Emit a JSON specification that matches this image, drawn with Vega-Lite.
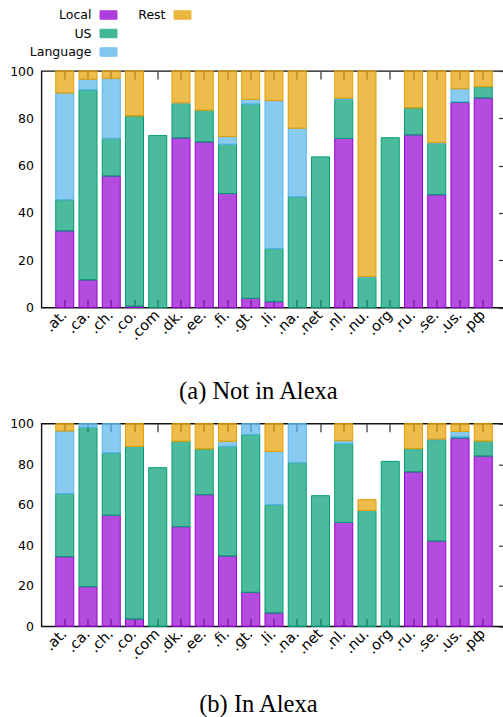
{
  "$schema": "https://vega.github.io/schema/vega-lite/v6.json",
  "padding": {"left": 8.5, "top": 6, "right": 0, "bottom": 0},
  "background": "white",
  "config": {
    "view": {"stroke": "#111", "strokeWidth": 1.4},
    "font": "DejaVu Sans",
    "axis": {"labelFont": "DejaVu Sans", "labelFontSize": 12.5, "labelColor": "#000", "domain": false, "grid": false, "title": null, "tickColor": "#333", "tickWidth": 1.2}
  },
  "data": {"values": [
    {"p":"a","t":".at.","c":"Local","v":32.4},{"p":"a","t":".at.","c":"US","v":13.1},{"p":"a","t":".at.","c":"Language","v":45.2},{"p":"a","t":".at.","c":"Rest","v":9.3},
    {"p":"a","t":".ca.","c":"Local","v":11.7},{"p":"a","t":".ca.","c":"US","v":80.3},{"p":"a","t":".ca.","c":"Language","v":4.5},{"p":"a","t":".ca.","c":"Rest","v":3.5},
    {"p":"a","t":".ch.","c":"Local","v":55.6},{"p":"a","t":".ch.","c":"US","v":15.9},{"p":"a","t":".ch.","c":"Language","v":25.4},{"p":"a","t":".ch.","c":"Rest","v":3.1},
    {"p":"a","t":".co.","c":"Local","v":0.6},{"p":"a","t":".co.","c":"US","v":80.4},{"p":"a","t":".co.","c":"Rest","v":19},
    {"p":"a","t":".com","c":"US","v":72.7},
    {"p":"a","t":".dk.","c":"Local","v":71.7},{"p":"a","t":".dk.","c":"US","v":14.5},{"p":"a","t":".dk.","c":"Language","v":0.3},{"p":"a","t":".dk.","c":"Rest","v":13.5},
    {"p":"a","t":".ee.","c":"Local","v":70},{"p":"a","t":".ee.","c":"US","v":13.4},{"p":"a","t":".ee.","c":"Rest","v":16.6},
    {"p":"a","t":".fi.","c":"Local","v":48.2},{"p":"a","t":".fi.","c":"US","v":20.8},{"p":"a","t":".fi.","c":"Language","v":3.3},{"p":"a","t":".fi.","c":"Rest","v":27.7},
    {"p":"a","t":".gt.","c":"Local","v":3.9},{"p":"a","t":".gt.","c":"US","v":82.1},{"p":"a","t":".gt.","c":"Language","v":2},{"p":"a","t":".gt.","c":"Rest","v":12},
    {"p":"a","t":".li.","c":"Local","v":2.5},{"p":"a","t":".li.","c":"US","v":22.4},{"p":"a","t":".li.","c":"Language","v":62.6},{"p":"a","t":".li.","c":"Rest","v":12.5},
    {"p":"a","t":".na.","c":"US","v":46.8},{"p":"a","t":".na.","c":"Language","v":29},{"p":"a","t":".na.","c":"Rest","v":24.2},
    {"p":"a","t":".net","c":"US","v":63.7},
    {"p":"a","t":".nl.","c":"Local","v":71.5},{"p":"a","t":".nl.","c":"US","v":16.5},{"p":"a","t":".nl.","c":"Language","v":0.5},{"p":"a","t":".nl.","c":"Rest","v":11.5},
    {"p":"a","t":".nu.","c":"US","v":12.7},{"p":"a","t":".nu.","c":"Language","v":0.4},{"p":"a","t":".nu.","c":"Rest","v":86.9},
    {"p":"a","t":".org","c":"US","v":71.8},
    {"p":"a","t":".ru.","c":"Local","v":73},{"p":"a","t":".ru.","c":"US","v":11.4},{"p":"a","t":".ru.","c":"Rest","v":15.6},
    {"p":"a","t":".se.","c":"Local","v":47.7},{"p":"a","t":".se.","c":"US","v":21.7},{"p":"a","t":".se.","c":"Language","v":0.3},{"p":"a","t":".se.","c":"Rest","v":30.3},
    {"p":"a","t":".us.","c":"Local","v":86.8},{"p":"a","t":".us.","c":"US","v":0.3},{"p":"a","t":".us.","c":"Language","v":5.4},{"p":"a","t":".us.","c":"Rest","v":7.5},
    {"p":"a","t":".рф","c":"Local","v":88.6},{"p":"a","t":".рф","c":"US","v":4.8},{"p":"a","t":".рф","c":"Rest","v":6.6},

    {"p":"b","t":".at.","c":"Local","v":34.4},{"p":"b","t":".at.","c":"US","v":31.1},{"p":"b","t":".at.","c":"Language","v":30.9},{"p":"b","t":".at.","c":"Rest","v":3.6},
    {"p":"b","t":".ca.","c":"Local","v":19.6},{"p":"b","t":".ca.","c":"US","v":78.6},{"p":"b","t":".ca.","c":"Language","v":1.8},
    {"p":"b","t":".ch.","c":"Local","v":54.8},{"p":"b","t":".ch.","c":"US","v":30.7},{"p":"b","t":".ch.","c":"Language","v":14.5},
    {"p":"b","t":".co.","c":"Local","v":3.6},{"p":"b","t":".co.","c":"US","v":85.2},{"p":"b","t":".co.","c":"Rest","v":11.2},
    {"p":"b","t":".com","c":"US","v":78.3},
    {"p":"b","t":".dk.","c":"Local","v":49.2},{"p":"b","t":".dk.","c":"US","v":42.1},{"p":"b","t":".dk.","c":"Rest","v":8.7},
    {"p":"b","t":".ee.","c":"Local","v":65},{"p":"b","t":".ee.","c":"US","v":22.5},{"p":"b","t":".ee.","c":"Rest","v":12.5},
    {"p":"b","t":".fi.","c":"Local","v":34.7},{"p":"b","t":".fi.","c":"US","v":54.1},{"p":"b","t":".fi.","c":"Language","v":2.5},{"p":"b","t":".fi.","c":"Rest","v":8.7},
    {"p":"b","t":".gt.","c":"Local","v":16.8},{"p":"b","t":".gt.","c":"US","v":77.8},{"p":"b","t":".gt.","c":"Language","v":5.4},
    {"p":"b","t":".li.","c":"Local","v":6.6},{"p":"b","t":".li.","c":"US","v":53.4},{"p":"b","t":".li.","c":"Language","v":26.3},{"p":"b","t":".li.","c":"Rest","v":13.7},
    {"p":"b","t":".na.","c":"US","v":80.8},{"p":"b","t":".na.","c":"Language","v":19.2},
    {"p":"b","t":".net","c":"US","v":64.5},
    {"p":"b","t":".nl.","c":"Local","v":51.3},{"p":"b","t":".nl.","c":"US","v":38.7},{"p":"b","t":".nl.","c":"Language","v":1.6},{"p":"b","t":".nl.","c":"Rest","v":8.4},
    {"p":"b","t":".nu.","c":"US","v":57.2},{"p":"b","t":".nu.","c":"Rest","v":5.3},
    {"p":"b","t":".org","c":"US","v":81.4},
    {"p":"b","t":".ru.","c":"Local","v":76.2},{"p":"b","t":".ru.","c":"US","v":11.5},{"p":"b","t":".ru.","c":"Rest","v":12.3},
    {"p":"b","t":".se.","c":"Local","v":42.1},{"p":"b","t":".se.","c":"US","v":50},{"p":"b","t":".se.","c":"Language","v":0.3},{"p":"b","t":".se.","c":"Rest","v":7.6},
    {"p":"b","t":".us.","c":"Local","v":92.9},{"p":"b","t":".us.","c":"US","v":0.5},{"p":"b","t":".us.","c":"Language","v":2.8},{"p":"b","t":".us.","c":"Rest","v":3.8},
    {"p":"b","t":".рф","c":"Local","v":84},{"p":"b","t":".рф","c":"US","v":7.4},{"p":"b","t":".рф","c":"Rest","v":8.6}
  ]},
  "bounds": "flush",
  "spacing": 115.7,
  "resolve": {"scale": {"fill": "shared", "stroke": "shared", "color": "shared"}, "legend": {"fill": "shared", "stroke": "shared", "color": "shared"}},
  "vconcat": [
    {
      "width": 465, "height": 236.6,
      "transform": [{"filter": "datum.p == 'a'"}, {"stack": "v", "groupby": ["t"], "as": ["y0", "y1"]}],
      "title": {"text": "(a) Not in Alexa", "orient": "bottom", "anchor": "middle", "frame": "bounds", "font": "Liberation Serif", "fontSize": 24.5, "fontWeight": "normal", "color": "#000", "offset": 38},
      "resolve": {"axis": {"x": "independent", "y": "independent"}},
      "layer": [
        {
          "transform": [{"filter": "datum.c != 'Rest'"}],
          "mark": {"type": "bar", "fillOpacity": 0.7, "strokeOpacity": 1, "strokeWidth": 1},
          "encoding": {
            "x": {"field": "t", "type": "nominal", "sort": null, "scale": {"domain": [".at.",".ca.",".ch.",".co.",".com",".dk.",".ee.",".fi.",".gt.",".li.",".na.",".net",".nl.",".nu.",".org",".ru.",".se.",".us.",".рф"], "paddingInner": 0.225, "paddingOuter": 0.6125}, "axis": {"orient": "bottom", "labelAngle": -45, "labelAlign": "right", "labelBaseline": "middle", "labelFontSize": 14.5, "tickSize": -8, "labelPadding": 13}},
            "y": {"field": "y0", "type": "quantitative", "scale": {"domain": [0, 100], "nice": false}, "axis": {"orient": "left", "ticks": false, "labelPadding": 8, "values": [0, 20, 40, 60, 80, 100]}},
            "y2": {"field": "y1"},
            "fill": {"field": "c", "type": "nominal", "scale": {"domain": ["Local", "US", "Language"], "range": ["#9400d3", "#009e73", "#56b4e9"]}, "legend": {"orient": "none", "legendX": 58, "legendY": -65, "title": null, "direction": "vertical", "symbolType": "M-1,-0.5H1V0.5H-1Z", "symbolSize": 289, "symbolStrokeWidth": 1, "symbolOpacity": 0.75, "labelAlign": "right", "labelOffset": -26, "labelFont": "DejaVu Sans", "labelFontSize": 12.5, "labelColor": "#000", "rowPadding": 2.5}},
            "stroke": {"field": "c", "type": "nominal", "scale": {"domain": ["Local", "US", "Language"], "range": ["#9400d3", "#009e73", "#56b4e9"]}}
          }
        },
        {
          "transform": [{"filter": "datum.c == 'Rest'"}],
          "mark": {"type": "bar", "fillOpacity": 0.7, "stroke": "#e69f00", "strokeOpacity": 1, "strokeWidth": 1},
          "encoding": {
            "x": {"field": "t", "type": "nominal", "sort": null, "axis": null},
            "y": {"field": "y0", "type": "quantitative", "axis": null},
            "y2": {"field": "y1"},
            "color": {"field": "c", "type": "nominal", "scale": {"domain": ["Rest"], "range": ["#e69f00"]}, "legend": {"orient": "none", "legendX": 132, "legendY": -65, "title": null, "symbolType": "M-1,-0.5H1V0.5H-1Z", "symbolSize": 289, "symbolStrokeWidth": 1, "symbolStrokeColor": "#e69f00", "symbolOpacity": 0.75, "labelAlign": "right", "labelOffset": -26, "labelFont": "DejaVu Sans", "labelFontSize": 12.5, "labelColor": "#000"}}
          }
        },
        {
          "mark": {"type": "bar", "opacity": 0},
          "encoding": {
            "x": {"field": "t", "type": "nominal", "sort": null, "axis": {"orient": "top", "labels": false, "tickSize": -8}},
            "y": {"field": "y1", "type": "quantitative", "stack": null, "axis": {"orient": "right", "labels": false, "tickSize": -8, "values": [0, 20, 40, 60, 80, 100]}}
          }
        }
      ]
    },
    {
      "width": 465, "height": 202.7,
      "transform": [{"filter": "datum.p == 'b'"}, {"stack": "v", "groupby": ["t"], "as": ["y0", "y1"]}],
      "title": {"text": "(b) In Alexa", "orient": "bottom", "anchor": "middle", "frame": "bounds", "font": "Liberation Serif", "fontSize": 24.5, "fontWeight": "normal", "color": "#000", "offset": 32},
      "resolve": {"axis": {"x": "independent", "y": "independent"}},
      "layer": [
        {
          "transform": [{"filter": "datum.c != 'Rest'"}],
          "mark": {"type": "bar", "fillOpacity": 0.7, "strokeOpacity": 1, "strokeWidth": 1},
          "encoding": {
            "x": {"field": "t", "type": "nominal", "sort": null, "scale": {"domain": [".at.",".ca.",".ch.",".co.",".com",".dk.",".ee.",".fi.",".gt.",".li.",".na.",".net",".nl.",".nu.",".org",".ru.",".se.",".us.",".рф"], "paddingInner": 0.225, "paddingOuter": 0.6125}, "axis": {"orient": "bottom", "labelAngle": -45, "labelAlign": "right", "labelBaseline": "middle", "labelFontSize": 14.5, "tickSize": -8, "labelPadding": 13}},
            "y": {"field": "y0", "type": "quantitative", "scale": {"domain": [0, 100], "nice": false}, "axis": {"orient": "left", "ticks": false, "labelPadding": 8, "values": [0, 20, 40, 60, 80, 100]}},
            "y2": {"field": "y1"},
            "fill": {"field": "c", "type": "nominal", "scale": {"domain": ["Local", "US", "Language"], "range": ["#9400d3", "#009e73", "#56b4e9"]}},
            "stroke": {"field": "c", "type": "nominal", "scale": {"domain": ["Local", "US", "Language"], "range": ["#9400d3", "#009e73", "#56b4e9"]}}
          }
        },
        {
          "transform": [{"filter": "datum.c == 'Rest'"}],
          "mark": {"type": "bar", "fillOpacity": 0.7, "stroke": "#e69f00", "strokeOpacity": 1, "strokeWidth": 1},
          "encoding": {
            "x": {"field": "t", "type": "nominal", "sort": null, "axis": null},
            "y": {"field": "y0", "type": "quantitative", "axis": null},
            "y2": {"field": "y1"},
            "color": {"field": "c", "type": "nominal", "scale": {"domain": ["Rest"], "range": ["#e69f00"]}}
          }
        },
        {
          "mark": {"type": "bar", "opacity": 0},
          "encoding": {
            "x": {"field": "t", "type": "nominal", "sort": null, "axis": {"orient": "top", "labels": false, "tickSize": -8}},
            "y": {"field": "y1", "type": "quantitative", "stack": null, "axis": {"orient": "right", "labels": false, "tickSize": -8, "values": [0, 20, 40, 60, 80, 100]}}
          }
        }
      ]
    }
  ]
}
